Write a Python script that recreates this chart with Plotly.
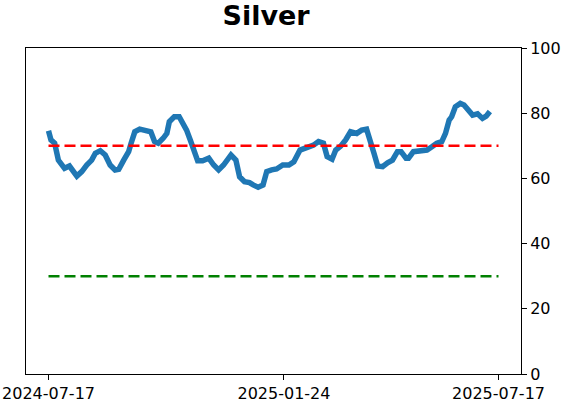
import pandas as pd
import plotly.graph_objects as go

# Silver indicator (days after 2024-07-17, value)
start_date = "2024-07-17"
day_offsets = [0, 2, 5, 8, 13, 17, 23, 27, 31, 35, 38, 42, 46, 50, 54, 57, 61, 65, 67, 70,
               74, 80, 83, 86, 89, 93, 96, 98, 102, 106, 109, 112, 115, 117, 120, 121, 125,
               130, 134, 138, 142, 144, 148, 152, 155, 159, 163, 166, 170, 174, 177, 181,
               185, 190, 195, 199, 204, 210, 215, 219, 223, 226, 230, 233, 237, 241, 245,
               250, 254, 258, 261, 264, 267, 271, 275, 279, 283, 286, 290, 292, 296, 302,
               307, 311, 315, 319, 322, 325, 327, 330, 334, 337, 341, 344, 348, 352, 355, 358]
values = [74.6, 71.8, 70.8, 65.6, 63.1, 63.8, 60.7, 62.1, 64.1, 65.6, 67.7, 68.5, 67.2,
          64.1, 62.6, 62.8, 65.6, 68.2, 70.8, 74.3, 75.1, 74.6, 74.3, 71.3, 70.8, 72.3,
          73.8, 77.4, 78.9, 78.9, 76.9, 74.8, 71.8, 69.7, 67.2, 65.4, 65.4, 66.2, 64.1,
          62.6, 64.1, 65.4, 67.2, 65.6, 60.5, 59.0, 58.7, 58.0, 57.3, 58.0, 62.1, 62.6,
          62.9, 64.1, 64.1, 65.1, 68.7, 69.5, 70.2, 71.3, 70.8, 66.7, 65.9, 68.7, 69.9,
          71.8, 74.3, 73.8, 74.8, 75.1, 71.8, 67.7, 63.8, 63.6, 64.8, 65.6, 68.2, 68.2,
          66.2, 66.2, 68.2, 68.7, 68.7, 69.7, 70.8, 71.3, 73.8, 77.9, 78.9, 82.0, 83.0,
          82.5, 80.5, 79.4, 79.8, 78.4, 79.1, 80.5]

ref_start = "2024-07-17"
ref_end = "2025-07-17"
upper_level = 70
lower_level = 30
tick_dates = ["2024-07-17", "2025-01-24", "2025-07-17"]

dates = pd.Timestamp(start_date) + pd.to_timedelta(day_offsets, unit="D")

fig = go.Figure()
fig.add_trace(go.Scatter(x=dates, y=values, mode="lines",
                         line=dict(color="#1f77b4", width=5.5), showlegend=False))
fig.add_trace(go.Scatter(x=[ref_start, ref_end], y=[upper_level, upper_level], mode="lines",
                         line=dict(color="#ff0000", width=2.6, dash="11px,5px"), showlegend=False))
fig.add_trace(go.Scatter(x=[ref_start, ref_end], y=[lower_level, lower_level], mode="lines",
                         line=dict(color="#008000", width=2.6, dash="11px,5px"), showlegend=False))

# 5% padding either side like matplotlib
span = pd.Timestamp(ref_end) - pd.Timestamp(ref_start)
x_lo = pd.Timestamp(ref_start) - span * 0.05
x_hi = pd.Timestamp(ref_end) + span * 0.05

fig.update_layout(
    width=562, height=402,
    margin=dict(l=26, r=41, t=48, b=28),
    paper_bgcolor="white", plot_bgcolor="white",
    font=dict(family="DejaVu Sans", size=16, color="black"),
    title=dict(text="<b>Silver</b>", x=0.4735, xanchor="center", y=0.962, yanchor="middle",
               font=dict(size=27), automargin=False),
)
fig.update_xaxes(range=[x_lo, x_hi], tickvals=tick_dates, ticktext=tick_dates,
                 showgrid=False, zeroline=False, showline=True, linecolor="black",
                 linewidth=1, mirror=True, ticks="outside", ticklen=5, tickcolor="black",
                 automargin=False)
fig.update_yaxes(range=[0, 100], tickvals=[0, 20, 40, 60, 80, 100], side="right",
                 showgrid=False, zeroline=False, showline=True, linecolor="black",
                 linewidth=1, mirror=True, ticks="outside", ticklen=5, tickcolor="black",
                 automargin=False)

# drop the browser's default page margin so the figure sits at the window corner
fig.write_html("out.html", config={"displayModeBar": False},
               post_script="document.body.style.margin='0px';")
